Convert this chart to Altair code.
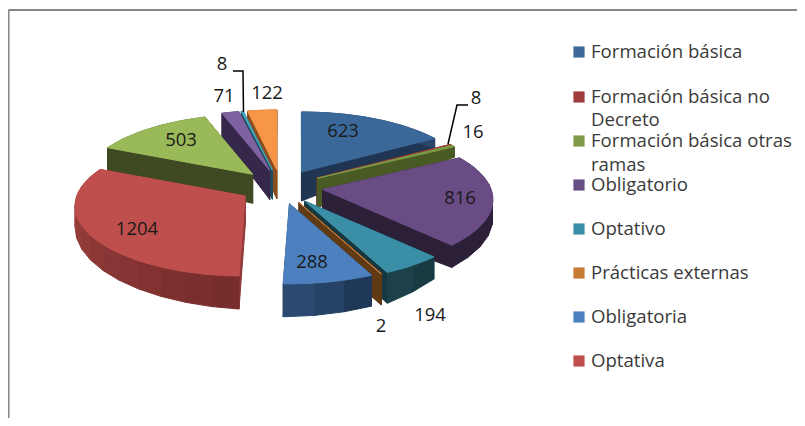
import math
import numpy as np
import pandas as pd
import altair as alt

# --- data (clockwise from 12 o'clock)
VALUES = [623, 8, 16, 816, 194, 2, 288, 1204, 503, 71, 8, 122]
TOP = ["#3a6899", "#a33c3a", "#7d9a45", "#6a4c85", "#3a8ea5", "#c97b35",
       "#4c80bf", "#bf4f4d", "#9ab958", "#7f62a1", "#46a8c4", "#f79646"]
CUT = ["#1f3552", "#6e2a28", "#4a5a25", "#2c2038", "#17383f", "#5f3a15",
       "#1f3552", "#8f3a38", "#3f4a22", "#35284a", "#1d4e5c", "#8a4f20"]
RIM_L = ["#2a466b", "#6e2a28", "#4a5a25", "#2c2038", "#1d444e", "#5f3a15",
         "#2f4f78", "#a84644", "#3f4a22", "#35284a", "#1d4e5c", "#8a4f20"]
RIM_R = ["#1f3552", "#6e2a28", "#4a5a25", "#2c2038", "#17383f", "#5f3a15",
         "#1c3450", "#742c2b", "#3f4a22", "#35284a", "#1d4e5c", "#8a4f20"]
LABELS = ["623", "8", "16", "816", "194", "2", "288", "1204", "503", "71", "8", "122"]
LABEL_X = [343, 476, 473, 460, 430, 381, 312, 137, 181, 224, 222, 267]
LABEL_Y = [131, 98, 132, 198, 315, 326, 262, 229, 140, 96, 64, 93]
LEGEND = ["Formación básica", "Formación básica no", "Formación básica otras",
          "Obligatorio", "Optativo", "Prácticas externas", "Obligatoria", "Optativa"]
LEGEND_COL = ["#3f6797", "#9e3d3b", "#7f9b48", "#674e85", "#3a8ea5", "#c97b35", "#4c80bf", "#bf4f4d"]
LEGEND_Y = [52, 97, 141, 185, 229, 273, 317, 361]
WRAP = ["Decreto", "ramas"]
WRAP_Y = [120, 165]

# --- projection of the tilted pie
CX, CY, RX, RY, P, EXPLODE = 281, 187, 168.5, 68.6, 1 / 7, 0.25
APEX_DEPTH = 29
D_THETA = [0, 58, 90, 136, 155, 182, 270, 294, 342, 360]
D_RIM = [24, 10, 18, 22, 31, 33, 20, 23, 24, 24]
FONT = "Open Sans"


def mix(a, b, t):
    ca = [int(a[i:i + 2], 16) for i in (1, 3, 5)]
    cb = [int(b[i:i + 2], 16) for i in (1, 3, 5)]
    return "#%02x%02x%02x" % tuple(round(x + (y - x) * t) for x, y in zip(ca, cb))


def rim_point(ax, ay, deg):
    t = math.radians(deg)
    u, v = math.sin(t), math.cos(t)
    w = 1 + P * v
    return ax + RX * u / w, ay - RY * v / w


def depth(deg):
    return float(np.interp(deg % 360, D_THETA, D_RIM))


total = sum(VALUES)
slices = []
acc = 0
for i, val in enumerate(VALUES):
    a0, a1 = acc / total * 360, (acc + val) / total * 360
    acc += val
    mid = math.radians((a0 + a1) / 2)
    slices.append((CY - RY * EXPLODE * math.cos(mid), i, a0, a1,
                   CX + RX * EXPLODE * math.sin(mid)))
slices.sort()

rows = []
pid = 0


def poly(points, colour):
    global pid
    for k, (x, y) in enumerate(list(points) + [points[0]]):
        rows.append({"id": pid, "k": k, "px": x, "py": y, "c": colour})
    pid += 1


for ay, i, a0, a1, ax in slices:
    for deg in (a0, a1):
        rx, ry = rim_point(ax, ay, deg)
        poly([(ax, ay), (rx, ry), (rx, ry + depth(deg)), (ax, ay + APEX_DEPTH)], CUT[i])
    n = max(1, int((a1 - a0) / 8))
    degs = np.linspace(a0, a1, n + 1)
    for j in range(n):
        p0 = rim_point(ax, ay, degs[j])
        p1 = rim_point(ax, ay, degs[j + 1])
        col = mix(RIM_R[i], RIM_L[i], (j + .5) / n)
        poly([p0, p1, (p1[0], p1[1] + depth(degs[j + 1])), (p0[0], p0[1] + depth(degs[j]))], col)
    arc = [rim_point(ax, ay, d) for d in np.linspace(a0, a1, max(2, int((a1 - a0) / 1.5) + 2))]
    poly([(ax, ay)] + arc, TOP[i])

pie_df = pd.DataFrame(rows)

X = alt.X("px:Q", scale=alt.Scale(domain=[8, 797], nice=False, zero=False), axis=None)
Y = alt.Y("py:Q", scale=alt.Scale(domain=[418, 8], nice=False, zero=False), axis=None)

pie = alt.Chart(pie_df).mark_line(filled=True, strokeWidth=1, strokeJoin="round", interpolate="linear").encode(
    x=X, y=Y, detail="id:N", order="k:Q",
    fill=alt.Fill("c:N", scale=None, legend=None),
    stroke=alt.Stroke("c:N", scale=None, legend=None),
)

labels_df = pd.DataFrame({"px": LABEL_X, "py": LABEL_Y, "t": LABELS})
labels = alt.Chart(labels_df).mark_text(font=FONT, fontSize=18.5, color="#1a1a1a").encode(x=X, y=Y, text="t:N")

lead_df = pd.DataFrame({
    "g": [0, 0, 0, 1, 1, 1], "k": [0, 1, 2, 0, 1, 2],
    "px": [448, 457, 468, 243.5, 243, 233], "py": [144, 105, 105, 112, 71, 71],
})
leaders = alt.Chart(lead_df).mark_line(color="#000000", strokeWidth=1.5).encode(x=X, y=Y, detail="g:N", order="k:Q")

leg_df = pd.DataFrame({"px": [579] * len(LEGEND), "py": LEGEND_Y, "c": LEGEND_COL})
swatch = alt.Chart(leg_df).mark_square(size=125, opacity=1).encode(
    x=X, y=Y, color=alt.Color("c:N", scale=None, legend=None))
txt_df = pd.DataFrame({"px": [591] * (len(LEGEND) + len(WRAP)),
                       "py": LEGEND_Y + WRAP_Y, "t": LEGEND + WRAP})
legend_text = alt.Chart(txt_df).mark_text(font=FONT, fontSize=18.6, align="left", color="#3a3a3a").encode(
    x=X, y=Y, text="t:N")

frame_df = pd.DataFrame({"px": [8.5, 8.5], "py": [418, 10], "px2": [8.5, 797], "py2": [10, 10]})
frame = alt.Chart(frame_df).mark_rule(color="#868686", strokeWidth=2).encode(
    x=X, y=Y, x2="px2:Q", y2="py2:Q")

chart = alt.layer(frame, pie, leaders, labels, swatch, legend_text).properties(
    width=789, height=410, padding=0, background="white",
    autosize=alt.AutoSizeParams(type="none"),
).configure_view(stroke=None)

chart.save("out.html", embed_options={"renderer": "svg", "actions": False})
